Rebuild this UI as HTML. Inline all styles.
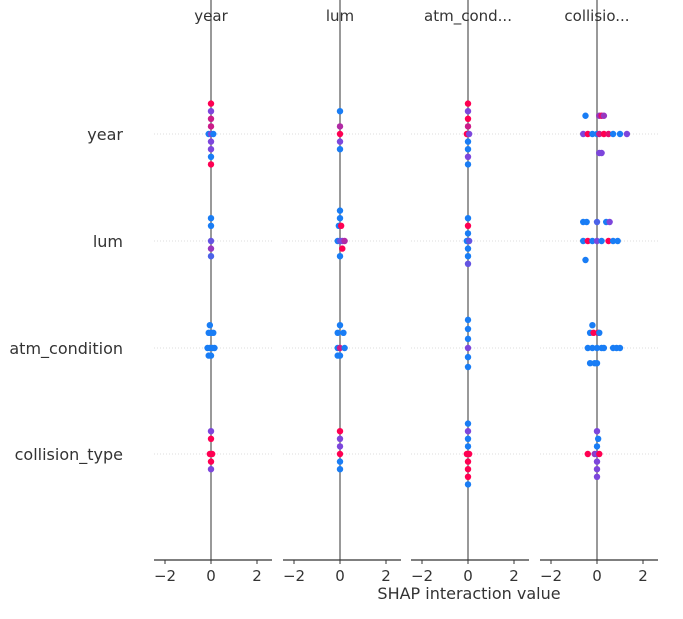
<!DOCTYPE html>
<html><head><meta charset="utf-8"><style>
body{margin:0;background:#fff;font-family:"Liberation Sans","DejaVu Sans",sans-serif}
svg text{font-family:"DejaVu Sans","Liberation Sans",sans-serif;fill:#333}
</style></head><body>
<svg id="chart" width="683" height="614" viewBox="0 0 683 614"></svg>
<script>
const features = ["year","lum","atm_condition","collision_type"];
const panelTitles = ["year","lum","atm_cond...","collisio..."];
const xTicks = [-2,0,2];
// each point: [shap value, vertical stack offset, feature value color 0..1]
const panelYear = [
 [[0,-4,1],[0,-3,.5],[0,-2,.8],[0,-1,.8],[-.1,0,.1],[0,0,.5],[.1,0,.1],[0,1,.5],[0,2,.5],[0,3,.1],[0,4,1]],
 [[0,-3,.1],[0,-2,.1],[0,0,.4],[0,1,.6],[0,2,.3]],
 [[-.05,-3,.1],[-.1,-2,.1],[0,-2,.1],[.1,-2,.1],[-.15,0,.1],[-.05,0,.1],[.05,0,.1],[.15,0,.1],[-.1,1,.1],[0,1,.1]],
 [[0,-3,.5],[0,-2,1],[-.05,0,1],[.05,0,1],[0,1,1],[0,2,.5]]
];
const panelLum = [
 [[0,-3,.1],[0,-1,.7],[0,0,1],[0,1,.5],[0,2,.1]],
 [[0,-4,.1],[0,-3,.1],[-.05,-2,.1],[.05,-2,1],[-.1,0,.1],[0,0,.4],[.1,0,.5],[.2,0,.7],[.1,1,1],[0,2,.1]],
 [[0,-3,.1],[-.1,-2,.1],[.15,-2,.1],[-.1,0,.1],[0,0,.8],[.2,0,.1],[-.1,1,.1],[0,1,.1]],
 [[0,-3,1],[0,-2,.5],[0,-1,.5],[0,0,1],[0,1,.1],[0,2,.1]]
];
const panelAtm = [
 [[0,-4,1],[0,-3,.5],[0,-2,1],[0,-1,.8],[-.05,0,1],[.05,0,.5],[0,1,.1],[0,2,.1],[0,3,.5],[0,4,.1]],
 [[0,-3,.1],[0,-2,1],[0,-1,.1],[-.05,0,.1],[.05,0,.4],[0,1,.1],[0,2,.1],[0,3,.4]],
 [[0,-3.7,.1],[0,-2.5,.1],[0,-1.2,.1],[0,0,.5],[0,1.2,.1],[0,2.5,.1]],
 [[0,-4,.1],[0,-3,.5],[0,-2,.1],[0,-1,.1],[-.05,0,1],[.05,0,1],[0,1,1],[0,2,1],[0,3,1],[0,4,.1]]
];
const panelColl = [
 [[-.5,-2.4,.1],[.1,-2.4,.6],[.2,-2.4,.9],[.3,-2.4,.6],[-.6,0,.5],[-.4,0,1],[-.2,0,.1],[0,0,.1],[.1,0,.8],[.3,0,1],[.5,0,.9],[.7,0,.1],[1.0,0,.1],[1.3,0,.5],[.1,2.5,.5],[.2,2.5,.5]],
 [[-.6,-2.5,.1],[-.45,-2.5,.1],[0,-2.5,.3],[.4,-2.5,.1],[.55,-2.5,.5],[-.6,0,.1],[-.4,0,1],[-.2,0,.1],[0,0,.5],[.2,0,.1],[.5,0,1],[.7,0,.1],[.9,0,.1],[-.5,2.5,.1]],
 [[-.2,-3,.1],[-.3,-2,.1],[-.15,-2,1],[.05,-2,1],[.1,-2,.1],[-.4,0,.1],[-.2,0,.1],[0,0,.1],[.2,0,.1],[.3,0,.1],[.7,0,.1],[.85,0,.1],[1.0,0,.1],[-.3,2,.1],[-.1,2,.1],[0,2,.1]],
 [[0,-3,.5],[.05,-2,.1],[0,-1,.1],[-.4,0,1],[-.1,0,.6],[0,0,.5],[.1,0,1],[0,1,.5],[0,2,.5],[0,3,.5]]
];
const panels = [panelYear,panelLum,panelAtm,panelColl];

const NS="http://www.w3.org/2000/svg";
const svg=document.getElementById('chart');
function mk(t,a,p){const e=document.createElementNS(NS,t);for(const k in a)e.setAttribute(k,a[k]);(p||svg).appendChild(e);return e;}
const panelLeft=[154,283,411,540], panelW=118, zeroOff=57, pxPerUnit=23;
const rowY=[134,241,348,454], stackPx=7.6, axisY=560;
function xScale(p,v){return panelLeft[p]+zeroOff+v*pxPerUnit;}
function yScale(r,o){return rowY[r]+o*stackPx;}
function color(c){const b=[0,139,251],r=[255,0,82],m=[125,70,220];let a,z,t;
 if(c<.5){a=b;z=m;t=c/.5;}else{a=m;z=r;t=(c-.5)/.5;}
 return 'rgb('+a.map((v,i)=>Math.round(v+(z[i]-v)*t)).join(',')+')';}

features.forEach((f,i)=>{
 const t=mk('text',{x:123,y:rowY[i]+6,'text-anchor':'end','font-size':16});t.textContent=f;
 
 
});
panels.forEach((rows,p)=>{
 const g=mk('g',{});
 
 
 rowY.forEach(y=>{const l=mk('line',{x1:panelLeft[p],x2:panelLeft[p]+panelW,y1:y,y2:y,stroke:'#ddd','stroke-dasharray':'1,2','stroke-width':1},g);
  
  });
 const z=mk('line',{x1:xScale(p,0),x2:xScale(p,0),y1:0,y2:axisY,stroke:'#999','stroke-width':2},g);
 
 
 const ax=mk('line',{x1:panelLeft[p],x2:panelLeft[p]+panelW,y1:axisY,y2:axisY,stroke:'#333','stroke-width':1.2},g);
 
 
 xTicks.forEach(v=>{const tl=mk('line',{x1:xScale(p,v),x2:xScale(p,v),y1:axisY,y2:axisY+4,stroke:'#333'},g);
  
  
  const tx=mk('text',{x:xScale(p,v),y:axisY+21,'text-anchor':'middle','font-size':15},g);
  tx.textContent=v<0?'\u2212'+Math.abs(v):String(v);
  
  });
 const tt=mk('text',{x:xScale(p,0),y:21,'text-anchor':'middle','font-size':15},g);
 tt.textContent=panelTitles[p];
 
 
 rows.forEach((pts,r)=>pts.forEach(d=>{
  const c=mk('circle',{cx:xScale(p,d[0]),cy:yScale(r,d[1]),r:3.2,fill:color(d[2])},g);
  
  
 }));
});
const xl=mk('text',{x:469,y:599,'text-anchor':'middle','font-size':16});
xl.textContent='SHAP interaction value';


</script>
</body></html>
